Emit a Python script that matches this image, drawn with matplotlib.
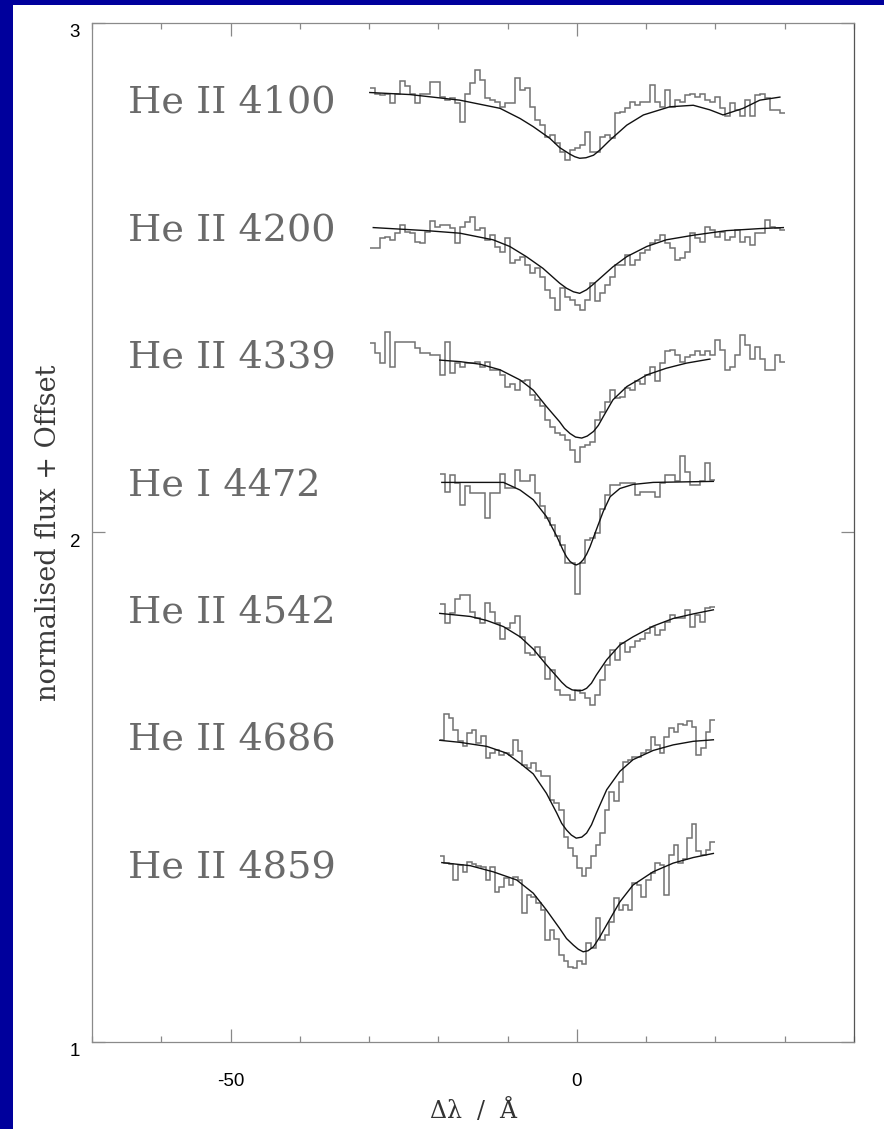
import numpy as np
import matplotlib.pyplot as plt
import matplotlib.transforms as mtransforms
from matplotlib.patches import Rectangle
from matplotlib.ticker import FixedLocator, MultipleLocator

plt.rcParams['axes.unicode_minus'] = False

# line identifications and vertical offsets (flux + offset)
line_names = ['He II 4100', 'He II 4200', 'He II 4339', 'He I 4472',
              'He II 4542', 'He II 4686', 'He II 4859']
offsets = [1.85, 1.60, 1.35, 1.10, 0.85, 0.60, 0.35]
# wavelength span of each observed spectrum (delta lambda, Angstrom)
obs_start = [-29.9, -29.9, -29.9, -19.8, -19.8, -19.8, -19.8]
obs_end = [30.0, 30.0, 30.0, 19.9, 19.9, 19.9, 19.9]

# observed (binned) normalised flux
obs_4100 = [1.021, 1.011, 1.008, 1.011, 0.992, 1.011, 1.036, 1.025, 1.011, 0.992,
            1.011, 1.011, 1.034, 1.034, 1.005, 0.998, 1.002, 0.992, 0.956, 1.011,
            1.031, 1.057, 1.038, 1.002, 0.998, 0.995, 0.985, 0.992, 0.992, 1.041,
            1.018, 1.021, 0.985, 0.959, 0.949, 0.926, 0.930, 0.913, 0.897, 0.881,
            0.900, 0.904, 0.910, 0.936, 0.897, 0.897, 0.926, 0.930, 0.923, 0.972,
            0.975, 0.982, 0.995, 0.989, 0.995, 0.995, 1.028, 0.995, 0.985, 1.018,
            0.985, 0.998, 0.995, 1.008, 1.011, 1.005, 1.011, 0.998, 0.995, 1.005,
            0.982, 0.966, 0.992, 0.979, 0.966, 0.998, 0.966, 1.008, 1.011, 1.002,
            0.979, 0.979, 0.972]
obs_4200 = [0.957, 0.957, 0.977, 0.980, 0.974, 0.987, 1.003, 0.990, 0.987, 0.970,
            0.967, 0.990, 1.010, 1.000, 1.003, 1.003, 0.997, 0.968, 1.000, 1.008,
            1.019, 0.993, 0.997, 0.974, 0.983, 0.960, 0.951, 0.977, 0.928, 0.934,
            0.941, 0.925, 0.908, 0.918, 0.902, 0.876, 0.859, 0.836, 0.879, 0.862,
            0.856, 0.846, 0.836, 0.856, 0.889, 0.853, 0.869, 0.885, 0.902, 0.925,
            0.925, 0.944, 0.925, 0.934, 0.948, 0.954, 0.967, 0.974, 0.983, 0.967,
            0.957, 0.934, 0.938, 0.951, 0.987, 0.977, 0.970, 1.000, 0.993, 0.980,
            0.990, 0.974, 0.980, 0.993, 0.970, 0.980, 0.964, 0.987, 0.987, 1.013,
            1.000, 0.997, 0.994]
obs_4339 = [1.021, 1.001, 0.982, 1.044, 0.975, 1.024, 1.024, 1.024, 1.024, 1.011,
            1.001, 1.001, 0.998, 0.998, 0.959, 1.024, 0.962, 0.982, 0.975, 0.982,
            0.982, 0.985, 0.975, 0.985, 0.969, 0.969, 0.959, 0.936, 0.942, 0.929,
            0.946, 0.949, 0.919, 0.910, 0.897, 0.870, 0.857, 0.844, 0.841, 0.831,
            0.812, 0.789, 0.818, 0.821, 0.828, 0.870, 0.887, 0.906, 0.929, 0.913,
            0.916, 0.933, 0.929, 0.946, 0.942, 0.959, 0.975, 0.946, 0.982, 1.005,
            1.008, 0.998, 0.985, 0.995, 0.998, 1.005, 0.998, 1.005, 0.998, 1.027,
            1.008, 0.969, 0.975, 0.998, 1.037, 1.018, 0.991, 1.014, 0.991, 0.969,
            0.969, 0.998, 0.985]
obs_4472 = [1.015, 0.979, 1.013, 0.996, 0.954, 0.990, 0.977, 0.977, 0.977, 0.928,
            0.977, 0.977, 1.015, 0.988, 0.988, 1.022, 1.000, 1.000, 1.013, 0.977,
            0.951, 0.928, 0.914, 0.892, 0.875, 0.839, 0.839, 0.780, 0.839, 0.885,
            0.888, 0.898, 0.945, 0.973, 0.993, 0.993, 0.996, 0.996, 0.996, 0.973,
            0.980, 0.980, 0.980, 0.970, 0.996, 1.013, 1.013, 1.000, 1.049, 1.019,
            0.993, 0.993, 1.000, 1.036, 1.003]
obs_4542 = [1.010, 0.972, 0.991, 1.019, 1.027, 1.027, 0.994, 0.981, 0.972, 1.012,
            0.994, 0.972, 0.940, 0.962, 0.972, 0.986, 0.945, 0.914, 0.909, 0.925,
            0.906, 0.862, 0.880, 0.841, 0.831, 0.831, 0.821, 0.841, 0.834, 0.824,
            0.811, 0.831, 0.860, 0.890, 0.919, 0.900, 0.932, 0.916, 0.926, 0.936,
            0.940, 0.952, 0.965, 0.949, 0.959, 0.975, 0.988, 0.981, 0.981, 0.998,
            0.965, 0.988, 0.975, 1.001, 1.004]
obs_4686 = [0.992, 1.044, 1.035, 1.012, 0.990, 0.980, 1.006, 1.012, 0.986, 1.001,
            0.957, 0.967, 0.973, 0.963, 0.967, 0.963, 0.993, 0.970, 0.944, 0.937,
            0.947, 0.931, 0.921, 0.921, 0.875, 0.869, 0.855, 0.803, 0.780, 0.764,
            0.741, 0.725, 0.741, 0.764, 0.787, 0.810, 0.855, 0.891, 0.872, 0.911,
            0.950, 0.954, 0.960, 0.960, 0.967, 0.973, 0.999, 0.983, 0.967, 0.999,
            1.016, 1.009, 1.024, 1.022, 1.029, 1.019, 0.963, 0.977, 1.009, 1.031]
obs_4859 = [1.014, 1.001, 0.999, 0.968, 0.997, 0.984, 1.004, 0.999, 0.996, 0.994,
            0.968, 0.994, 0.945, 0.955, 0.971, 0.958, 0.974, 0.968, 0.903, 0.939,
            0.935, 0.922, 0.909, 0.850, 0.870, 0.853, 0.821, 0.808, 0.798, 0.795,
            0.808, 0.804, 0.844, 0.834, 0.893, 0.850, 0.860, 0.886, 0.932, 0.909,
            0.919, 0.909, 0.961, 0.958, 0.935, 0.968, 0.981, 1.001, 0.997, 0.939,
            1.017, 1.037, 1.001, 1.010, 1.050, 1.077, 1.024, 1.017, 1.027, 1.043]

# model profiles (delta lambda, normalised flux)
fit_x_4100 = [-29.9, -24.1, -16.9, -11.1, -8.2, -6.3, -3.9, -2.5, -1.0, -0.3, 0.4, 1.3, 2.4,
              3.3, 4.8, 7.2, 9.6, 13.4, 16.8, 19.2, 21.1, 24.0, 26.4, 29.3]
fit_y_4100 = [1.013, 1.009, 0.998, 0.982, 0.962, 0.946, 0.923, 0.905, 0.892, 0.887, 0.884, 0.885, 0.890,
              0.900, 0.920, 0.949, 0.969, 0.985, 0.988, 0.979, 0.969, 0.982, 0.998, 1.004]
fit_x_4200 = [-29.4, -21.7, -16.9, -12.1, -9.7, -7.3, -4.9, -2.5, -1.5, -0.5, 0.4,
              1.4, 2.3, 3.3, 5.2, 7.2, 10.1, 12.9, 16.8, 21.6, 26.4, 29.8]
fit_y_4200 = [0.998, 0.992, 0.987, 0.974, 0.961, 0.941, 0.918, 0.889, 0.879, 0.872, 0.869,
              0.876, 0.886, 0.898, 0.921, 0.941, 0.961, 0.974, 0.983, 0.992, 0.996, 0.998]
fit_x_4339 = [-19.8, -16.9, -14.0, -11.1, -8.2, -6.3, -4.4, -2.5, -1.8, -1.0, -0.2,
              0.7, 1.5, 2.4, 3.1, 3.8, 5.2, 7.2, 10.1, 12.9, 15.8, 19.2]
fit_y_4339 = [0.988, 0.985, 0.980, 0.969, 0.949, 0.929, 0.897, 0.867, 0.854, 0.844, 0.837,
              0.835, 0.839, 0.848, 0.860, 0.877, 0.910, 0.936, 0.959, 0.972, 0.982, 0.990]
fit_x_4472 = [-19.5, -10.6, -8.2, -6.3, -4.4, -2.9, -2.0, -1.5, -1.0, -0.5, -0.1,
              0.4, 0.9, 1.4, 1.9, 2.8, 3.8, 4.8, 6.2, 8.1, 11.0, 19.7]
fit_y_4472 = [0.998, 0.998, 0.983, 0.964, 0.931, 0.892, 0.865, 0.852, 0.843, 0.838, 0.836,
              0.839, 0.846, 0.857, 0.872, 0.905, 0.941, 0.970, 0.986, 0.994, 0.998, 1.000]
fit_x_4542 = [-19.8, -15.4, -13.0, -10.6, -8.2, -6.3, -4.4, -2.9, -2.2, -1.5, -0.7, 0.2,
              0.8, 1.4, 2.1, 2.8, 4.3, 6.2, 8.1, 11.0, 13.9, 16.8, 19.7]
fit_y_4542 = [0.991, 0.985, 0.977, 0.965, 0.945, 0.921, 0.890, 0.867, 0.856, 0.847, 0.841, 0.839,
              0.840, 0.844, 0.854, 0.870, 0.900, 0.929, 0.945, 0.966, 0.981, 0.990, 0.998]
fit_x_4686 = [-19.8, -16.9, -13.0, -10.2, -8.2, -6.3, -4.4, -2.9, -2.2, -1.5, -0.8, -0.1,
              0.7, 1.4, 2.1, 2.8, 4.3, 6.2, 8.1, 11.0, 13.9, 16.8, 19.7]
fit_y_4686 = [0.992, 0.988, 0.980, 0.967, 0.947, 0.926, 0.888, 0.849, 0.829, 0.816, 0.806, 0.800,
              0.802, 0.810, 0.826, 0.849, 0.895, 0.931, 0.954, 0.972, 0.983, 0.990, 0.993]
fit_x_4859 = [-19.5, -15.4, -12.1, -8.7, -6.3, -4.4, -2.5, -1.5, -0.5, 0.2, 0.9,
              1.6, 2.4, 3.3, 4.3, 6.2, 8.1, 11.0, 13.9, 16.8, 19.7]
fit_y_4859 = [1.002, 0.996, 0.984, 0.968, 0.942, 0.909, 0.873, 0.853, 0.840, 0.832, 0.827,
              0.829, 0.837, 0.856, 0.880, 0.925, 0.958, 0.984, 1.001, 1.012, 1.020]

observed = [obs_4100, obs_4200, obs_4339, obs_4472, obs_4542, obs_4686, obs_4859]
fits_x = [fit_x_4100, fit_x_4200, fit_x_4339, fit_x_4472, fit_x_4542, fit_x_4686, fit_x_4859]
fits_y = [fit_y_4100, fit_y_4200, fit_y_4339, fit_y_4472, fit_y_4542, fit_y_4686, fit_y_4859]

fig = plt.figure(figsize=(8.84, 11.29), dpi=100)
fig.patch.set_facecolor('#00009c')
# white page inside the blue slide frame
fig.add_artist(Rectangle((13 / 884, 0), 1, 1124 / 1129, transform=fig.transFigure,
                         facecolor='white', edgecolor='none', zorder=0))

ax = fig.add_axes([92 / 884, 87 / 1129, 762 / 884, 1019.3 / 1129])
ax.set_facecolor('white')

for i in range(len(line_names)):
    flux = np.array(observed[i]) + offsets[i]
    edges = np.linspace(obs_start[i], obs_end[i], len(flux) + 1)
    ax.stairs(flux, edges, baseline=None, color='#727272', lw=1.1)
    ax.plot(fits_x[i], np.array(fits_y[i]) + offsets[i], color='#111111', lw=1.0,
            solid_joinstyle='round')
    ax.text(-64.8, offsets[i] + 1 - 0.027, line_names[i], family='DejaVu Serif',
            fontsize=27.5, color='#6a6a6a', ha='left', va='baseline')

ax.set_xlim(-70, 40)
ax.set_ylim(1, 3)

ax.xaxis.set_major_locator(FixedLocator([-50, 0]))
ax.xaxis.set_minor_locator(MultipleLocator(10))
ax.yaxis.set_major_locator(FixedLocator([1, 2, 3]))
ax.tick_params(which='both', direction='in', top=True, right=True, color='#888888', width=0.9)
ax.tick_params(which='major', length=9.4)
ax.tick_params(which='minor', length=4.3)
ax.tick_params(axis='x', pad=22)
ax.tick_params(axis='y', pad=8.5)
for lab in ax.get_xticklabels() + ax.get_yticklabels():
    lab.set_family('Liberation Sans')
    lab.set_fontsize(13.5)
shift = mtransforms.ScaledTranslation(0, -8 / 100, fig.dpi_scale_trans)
for lab in ax.get_yticklabels():
    lab.set_transform(lab.get_transform() + shift)

for side in ['left', 'top', 'bottom']:
    ax.spines[side].set_color('#8a8a8a')
ax.spines['right'].set_color('#555555')
for s in ax.spines.values():
    s.set_linewidth(0.9)

ax.set_xlabel('\u0394\u03bb  /  \u00c5', family='DejaVu Serif', fontsize=17, color='#333333')
ax.xaxis.set_label_coords(0.5, -0.056)
ax.set_ylabel('normalised flux + Offset', family='DejaVu Serif', fontsize=19.5, color='#3a3a3a')
ax.yaxis.set_label_coords(-0.04, 0.5)

fig.savefig('out.png', dpi=100, facecolor=fig.get_facecolor())
